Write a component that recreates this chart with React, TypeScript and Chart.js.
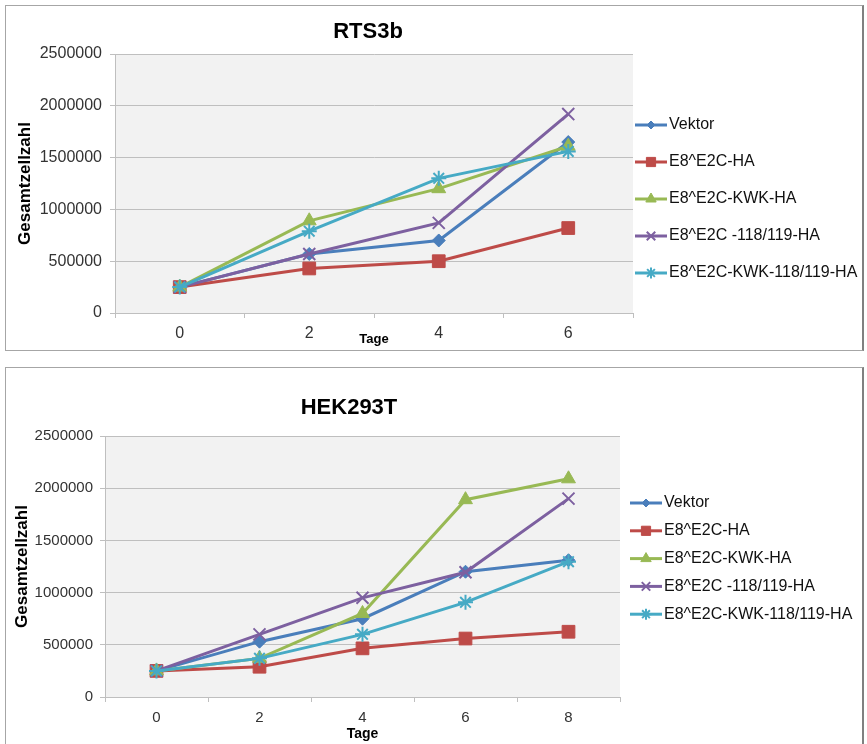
import React, { useEffect, useRef } from "react";
import { Chart, registerables } from "chart.js";
import { drawPoint } from "chart.js/helpers";

Chart.register(...registerables);

// ---------- DATA ----------
const seriesNames = [
  "Vektor",
  "E8^E2C-HA",
  "E8^E2C-KWK-HA",
  "E8^E2C -118/119-HA",
  "E8^E2C-KWK-118/119-HA",
];

const rtsDays = ["0", "2", "4", "6"];
const rtsVektor = [250000, 570000, 700000, 1650000];
const rtsHA = [250000, 430000, 500000, 820000];
const rtsKWK = [250000, 890000, 1200000, 1610000];
const rts118 = [250000, 570000, 870000, 1920000];
const rtsKWK118 = [250000, 790000, 1300000, 1560000];

const hekDays = ["0", "2", "4", "6", "8"];
const hekVektor = [250000, 530000, 750000, 1200000, 1310000];
const hekHA = [250000, 290000, 466000, 560000, 625000];
const hekKWK = [250000, 370000, 800000, 1890000, 2090000];
const hek118 = [250000, 600000, 950000, 1195000, 1900000];
const hekKWK118 = [250000, 370000, 600000, 907000, 1296000];

const yTicks = [0, 500000, 1000000, 1500000, 2000000, 2500000];

// ---------- STYLES ----------
const FONT = '"Liberation Sans", Arial, sans-serif';
const seriesStyles = [
  { color: "#4A7EBB", pointStyle: "rectRot", radius: 6.5, bw: 1, lr: 4 },
  { color: "#BE4B48", pointStyle: "rect", radius: 9, bw: 1, lr: 6.5 },
  { color: "#98B954", pointStyle: "triangle", radius: 8, bw: 1, lr: 6 },
  { color: "#7D60A0", pointStyle: "crossRot", radius: 8.5, bw: 2, lr: 6 },
  { color: "#46AAC5", pointStyle: "star", radius: 7.5, bw: 2, lr: 5.5 },
];

const decorPlugin = {
  id: "excelDecor",
  beforeDraw(chart: any) {
    const { ctx, chartArea } = chart;
    ctx.save();
    ctx.fillStyle = "#f2f2f2";
    ctx.fillRect(chartArea.left, chartArea.top, chartArea.right - chartArea.left, chartArea.bottom - chartArea.top);
    ctx.restore();
  },
  afterDraw(chart: any, _args: any, opts: any) {
    const { ctx } = chart;
    ctx.save();
    // title
    ctx.fillStyle = "#000";
    ctx.font = `bold ${opts.titleSize}px ${FONT}`;
    ctx.textAlign = "center";
    ctx.textBaseline = "middle";
    ctx.fillText(opts.title, opts.titleX, opts.titleY);
    // legend
    chart.data.datasets.forEach((ds: any, i: number) => {
      const y = opts.legendY + i * opts.legendGap;
      const x0 = opts.legendX;
      const x1 = x0 + 32;
      ctx.strokeStyle = ds.borderColor;
      ctx.lineWidth = 3;
      ctx.beginPath();
      ctx.moveTo(x0, y);
      ctx.lineTo(x1, y);
      ctx.stroke();
      ctx.fillStyle = ds.backgroundColor;
      ctx.strokeStyle = ds.borderColor;
      ctx.lineWidth = ds.pointBorderWidth;
      drawPoint(ctx, { pointStyle: ds.pointStyle, radius: seriesStyles[i].lr, rotation: 0, borderWidth: ds.pointBorderWidth } as any, (x0 + x1) / 2, y);
      ctx.fillStyle = "#111";
      ctx.font = `16px ${FONT}`;
      ctx.textAlign = "left";
      ctx.textBaseline = "middle";
      ctx.fillText(ds.label, x1 + 2, y);
    });
    ctx.restore();
  },
};

type Cfg = {
  width: number;
  height: number;
  labels: string[];
  data: number[][];
  title: string;
  titleSize: number;
  titleX: number;
  titleY: number;
  legendX: number;
  legendY: number;
  legendGap: number;
  padTop: number;
  padRight: number;
  padBottom: number;
  yWidth: number;
  xHeight: number;
  yTickSize: number;
  yTickPad: number;
  xTickSize: number;
  xTickPad: number;
  yTitlePad: number;
  xTitleSize: number;
};

function LineChart({ cfg }: { cfg: Cfg }) {
  const ref = useRef<HTMLCanvasElement | null>(null);
  useEffect(() => {
    if (!ref.current) return;
    const datasets = cfg.data.map((vals, i) => {
      const s = seriesStyles[i];
      return {
        label: seriesNames[i],
        data: vals,
        borderColor: s.color,
        backgroundColor: s.color,
        borderWidth: 3,
        pointStyle: s.pointStyle,
        pointRadius: s.radius,
        pointBorderWidth: s.bw,
        pointBackgroundColor: s.color,
        pointBorderColor: s.color,
        tension: 0,
        order: seriesNames.length - i,
      };
    });
    const chart = new Chart(ref.current, {
      type: "line",
      data: { labels: cfg.labels, datasets: datasets as any },
      plugins: [decorPlugin as any],
      options: {
        responsive: false,
        animation: false,
        devicePixelRatio: 1,
        layout: { padding: { left: 0, top: cfg.padTop, right: cfg.padRight, bottom: cfg.padBottom } },
        plugins: {
          legend: { display: false },
          title: { display: false },
          tooltip: { enabled: false },
          excelDecor: {
            title: cfg.title,
            titleSize: cfg.titleSize,
            titleX: cfg.titleX,
            titleY: cfg.titleY,
            legendX: cfg.legendX,
            legendY: cfg.legendY,
            legendGap: cfg.legendGap,
          },
        } as any,
        scales: {
          x: {
            type: "category",
            offset: true,
            afterFit: (s: any) => {
              s.height = cfg.xHeight;
            },
            grid: {
              offset: true,
              drawOnChartArea: false,
              drawTicks: true,
              tickLength: 5,
              color: "#bfbfbf",
            },
            border: { display: true, color: "#bfbfbf" },
            ticks: {
              color: "#333",
              font: { family: FONT, size: cfg.xTickSize },
              padding: cfg.xTickPad,
              maxRotation: 0,
            },
            title: {
              display: true,
              text: "Tage",
              color: "#000",
              font: { family: FONT, size: cfg.xTitleSize, weight: "bold" },
              padding: { top: 0, bottom: 0 },
            },
          },
          y: {
            min: 0,
            max: 2500000,
            afterFit: (s: any) => {
              s.width = cfg.yWidth;
            },
            afterBuildTicks: (s: any) => {
              s.ticks = yTicks.map((v) => ({ value: v }));
            },
            grid: {
              color: "#bfbfbf",
              drawTicks: true,
              tickLength: 5,
              lineWidth: 1,
            },
            border: { display: true, color: "#bfbfbf" },
            ticks: {
              color: "#333",
              font: { family: FONT, size: cfg.yTickSize },
              padding: cfg.yTickPad,
              callback: (v: any) => String(v),
            },
            title: {
              display: true,
              text: "Gesamtzellzahl",
              color: "#000",
              font: { family: FONT, size: 17, weight: "bold" },
              padding: { top: cfg.yTitlePad, bottom: 0 },
            },
          },
        },
      },
    });
    return () => chart.destroy();
  }, [cfg]);
  return (
    <canvas
      ref={ref}
      width={cfg.width}
      height={cfg.height}
      style={{ width: cfg.width, height: cfg.height, display: "block" }}
    />
  );
}

const topCfg: Cfg = {
  width: 867,
  height: 358,
  labels: rtsDays,
  data: [rtsVektor, rtsHA, rtsKWK, rts118, rtsKWK118],
  title: "RTS3b",
  titleSize: 22,
  titleX: 368,
  titleY: 32,
  legendX: 635,
  legendY: 125,
  legendGap: 37,
  padTop: 54,
  padRight: 234,
  padBottom: 11,
  yWidth: 115,
  xHeight: 34,
  yTickSize: 16,
  yTickPad: 8,
  xTickSize: 16,
  xTickPad: 6,
  yTitlePad: 15,
  xTitleSize: 13,
};

const bottomCfg: Cfg = {
  width: 867,
  height: 386,
  labels: hekDays,
  data: [hekVektor, hekHA, hekKWK, hek118, hekKWK118],
  title: "HEK293T",
  titleSize: 22,
  titleX: 349,
  titleY: 50,
  legendX: 630,
  legendY: 145,
  legendGap: 27.8,
  padTop: 78,
  padRight: 247,
  padBottom: 1,
  yWidth: 105,
  xHeight: 46,
  yTickSize: 15,
  yTickPad: 7,
  xTickSize: 15,
  xTickPad: 7,
  yTitlePad: 12,
  xTitleSize: 14,
};

export default function App() {
  return (
    <div
      style={{
        position: "absolute",
        left: 0,
        top: 0,
        width: 867,
        height: 744,
        overflow: "hidden",
        background: "#fff",
      }}
    >
      <div
        style={{
          position: "absolute",
          left: 5,
          top: 5,
          width: 859,
          height: 346,
          boxSizing: "border-box",
          border: "1px solid #a6a6a6",
          borderRightColor: "#808080",
          borderRightWidth: 2,
        }}
      />
      <div
        style={{
          position: "absolute",
          left: 5,
          top: 367,
          width: 859,
          height: 420,
          boxSizing: "border-box",
          border: "1px solid #a6a6a6",
          borderRightColor: "#808080",
          borderRightWidth: 2,
        }}
      />
      <div style={{ position: "absolute", left: 0, top: 0 }}>
        <LineChart cfg={topCfg} />
      </div>
      <div style={{ position: "absolute", left: 0, top: 358 }}>
        <LineChart cfg={bottomCfg} />
      </div>
    </div>
  );
}
